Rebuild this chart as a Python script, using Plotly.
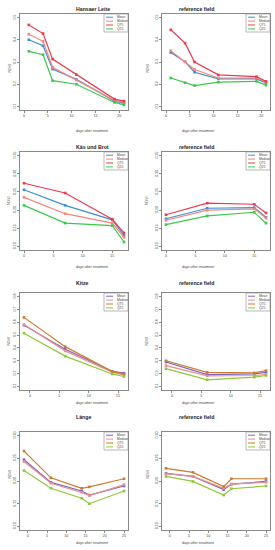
import plotly.graph_objects as go

W, H = 275, 550

# ---------------- data ----------------
hl_days = [1, 4, 6, 11, 19, 21]
hl_mean = [0.400, 0.373, 0.268, 0.222, 0.124, 0.115]
hl_median = [0.425, 0.393, 0.276, 0.219, 0.127, 0.118]
hl_q75 = [0.467, 0.428, 0.313, 0.243, 0.133, 0.124]
hl_q25 = [0.348, 0.333, 0.216, 0.200, 0.118, 0.107]

hl_ref_mean = [0.343, 0.301, 0.254, 0.224, 0.224, 0.206]
hl_ref_median = [0.351, 0.301, 0.266, 0.228, 0.228, 0.210]
hl_ref_q75 = [0.445, 0.385, 0.300, 0.242, 0.234, 0.213]
hl_ref_q25 = [0.228, 0.207, 0.194, 0.209, 0.213, 0.196]

kb_days = [0, 7, 15, 17]
kb_mean = [0.256, 0.213, 0.173, 0.130]
kb_median = [0.235, 0.190, 0.164, 0.125]
kb_q75 = [0.274, 0.247, 0.175, 0.137]
kb_q25 = [0.213, 0.164, 0.157, 0.112]

kb_ref_mean = [0.176, 0.205, 0.207, 0.180]
kb_ref_median = [0.172, 0.200, 0.203, 0.178]
kb_ref_q75 = [0.187, 0.219, 0.216, 0.192]
kb_ref_q25 = [0.160, 0.184, 0.194, 0.164]

ki_days = [-1, 6, 14, 16]
ki_mean = [0.577, 0.390, 0.218, 0.203]
ki_median = [0.582, 0.377, 0.210, 0.190]
ki_q75 = [0.638, 0.410, 0.215, 0.197]
ki_q25 = [0.515, 0.336, 0.197, 0.177]

ki_ref_mean = [0.290, 0.192, 0.197, 0.210]
ki_ref_median = [0.262, 0.182, 0.185, 0.192]
ki_ref_q75 = [0.300, 0.210, 0.205, 0.223]
ki_ref_q25 = [0.238, 0.151, 0.172, 0.185]

la_days = [-1, 6, 14, 16, 25]
la_mean = [0.247, 0.197, 0.178, 0.169, 0.189]
la_median = [0.243, 0.195, 0.175, 0.168, 0.192]
la_q75 = [0.266, 0.207, 0.184, 0.187, 0.205]
la_q25 = [0.223, 0.184, 0.162, 0.150, 0.178]

la_ref_mean = [0.217, 0.210, 0.181, 0.193, 0.199]
la_ref_median = [0.216, 0.210, 0.184, 0.193, 0.197]
la_ref_q75 = [0.228, 0.219, 0.188, 0.205, 0.205]
la_ref_q25 = [0.210, 0.199, 0.169, 0.183, 0.189]

series_names = ["Mean", "Median", "Q75", "Q25"]
titles = ["Hansaer Leite", "reference field", "Käs und Brot", "reference field",
          "Kitze", "reference field", "Länge", "reference field"]
x_label = "days after treatment"
y_label = "NDVI"

colors_a = {"Mean": "#3d8fd6", "Median": "#f4857a", "Q75": "#ec3b4c", "Q25": "#3cc94a"}
colors_b = {"Mean": "#7a62c4", "Median": "#e8908e", "Q75": "#cf7a2c", "Q25": "#8fc83a"}

panels = [
    (hl_days, [hl_mean, hl_median, hl_q75, hl_q25], colors_a),
    (hl_days, [hl_ref_mean, hl_ref_median, hl_ref_q75, hl_ref_q25], colors_a),
    (kb_days, [kb_mean, kb_median, kb_q75, kb_q25], colors_a),
    (kb_days, [kb_ref_mean, kb_ref_median, kb_ref_q75, kb_ref_q25], colors_a),
    (ki_days, [ki_mean, ki_median, ki_q75, ki_q25], colors_b),
    (ki_days, [ki_ref_mean, ki_ref_median, ki_ref_q75, ki_ref_q25], colors_b),
    (la_days, [la_mean, la_median, la_q75, la_q25], colors_b),
    (la_days, [la_ref_mean, la_ref_median, la_ref_q75, la_ref_q25], colors_b),
]

# axis settings per row
row_x = [
    dict(range=[-0.84, 21.84], tickvals=[0, 5, 10, 15, 20]),
    dict(range=[-0.68, 17.68], tickvals=[0, 5, 10, 15]),
    dict(range=[-1.68, 16.68], tickvals=[0, 5, 10, 15]),
    dict(range=[-2.04, 26.04], tickvals=[0, 5, 10, 15, 20, 25]),
]
row_y = [
    dict(range=[0.084, 0.516], tickvals=[0.1, 0.2, 0.3, 0.4, 0.5], tickformat=".1f"),
    dict(range=[0.09, 0.36], tickvals=[0.10, 0.15, 0.20, 0.25, 0.30, 0.35], tickformat=".2f"),
    dict(range=[0.072, 0.828], tickvals=[0.1, 0.2, 0.3, 0.4, 0.5, 0.6, 0.7, 0.8], tickformat=".1f"),
    dict(range=[0.092, 0.308], tickvals=[0.10, 0.15, 0.20, 0.25, 0.30], tickformat=".2f"),
]

# panel boxes in pixels
col_px = [(20, 128), (162, 270)]
row_px = [(14, 110), (152, 250), (293, 390), (432, 530)]

def px_x(p):
    return p / W

def px_y(p):
    return 1 - p / H

fig = go.Figure()
annotations = []
shapes = []
FONT = "Liberation Sans, Arial, sans-serif"
frame_col = "#8a8a8a"
text_col = "#444444"

for i, (days, vals, cols) in enumerate(panels):
    r, c = divmod(i, 2)
    n = i + 1
    xa = "x" if n == 1 else f"x{n}"
    ya = "y" if n == 1 else f"y{n}"
    for name, v in zip(series_names, vals):
        fig.add_trace(go.Scatter(
            x=days, y=v, mode="lines+markers", name=name, showlegend=False,
            line=dict(color=cols[name], width=1.2),
            marker=dict(symbol="square", size=2.6, color=cols[name]),
            xaxis=xa, yaxis=ya))
    x0, x1 = col_px[c]
    y0, y1 = row_px[r]
    axis_common = dict(showgrid=False, zeroline=False, showline=True, mirror=True,
                       linecolor=frame_col, linewidth=0.8, ticks="outside", ticklen=2,
                       tickcolor=frame_col, tickwidth=0.6,
                       tickfont=dict(size=3.6, color=text_col, family=FONT))
    fig.layout[f"xaxis{'' if n == 1 else n}"] = dict(
        domain=[px_x(x0), px_x(x1)], anchor=ya, **row_x[r], **axis_common)
    fig.layout[f"yaxis{'' if n == 1 else n}"] = dict(
        domain=[px_y(y1), px_y(y0)], anchor=xa, tickangle=-90, **row_y[r], **axis_common)

    # title
    annotations.append(dict(x=px_x((x0 + x1) / 2), y=px_y(y0 - 10), xref="paper", yref="paper",
                            text=f"<b>{titles[i]}</b>", showarrow=False,
                            font=dict(size=5.2, color="#222222", family=FONT)))
    # x label
    annotations.append(dict(x=px_x((x0 + x1) / 2), y=px_y(y1 + 17), xref="paper", yref="paper",
                            text=x_label, showarrow=False,
                            font=dict(size=3.6, color=text_col, family=FONT)))
    # y label
    annotations.append(dict(x=px_x(x0 - 15), y=px_y((y0 + y1) / 2), xref="paper", yref="paper",
                            text=y_label, showarrow=False, textangle=-90,
                            font=dict(size=3.6, color=text_col, family=FONT)))
    # legend box
    lx0, lx1 = x1 - 24, x1
    ly0, ly1 = y0, y0 + 18
    shapes.append(dict(type="rect", xref="paper", yref="paper",
                       x0=px_x(lx0), x1=px_x(lx1), y0=px_y(ly1), y1=px_y(ly0),
                       line=dict(color=frame_col, width=0.6), fillcolor="white"))
    for k, name in enumerate(series_names):
        yy = ly0 + 3.2 + k * 3.9
        shapes.append(dict(type="line", xref="paper", yref="paper",
                           x0=px_x(lx0 + 2), x1=px_x(lx0 + 9), y0=px_y(yy), y1=px_y(yy),
                           line=dict(color=cols[name], width=1)))
        annotations.append(dict(x=px_x(lx0 + 10.5), y=px_y(yy), xref="paper", yref="paper",
                                text=name, showarrow=False, xanchor="left", yanchor="middle",
                                font=dict(size=3.3, color=text_col, family=FONT)))

fig.update_layout(width=W, height=H, margin=dict(l=0, r=0, t=0, b=0),
                  paper_bgcolor="white", plot_bgcolor="white",
                  annotations=annotations, shapes=shapes, showlegend=False)

fig.write_html("out.html", config={"displayModeBar": False},
               post_script="document.body.style.margin='0';document.body.style.padding='0';"
                           "document.body.style.overflow='hidden';")
